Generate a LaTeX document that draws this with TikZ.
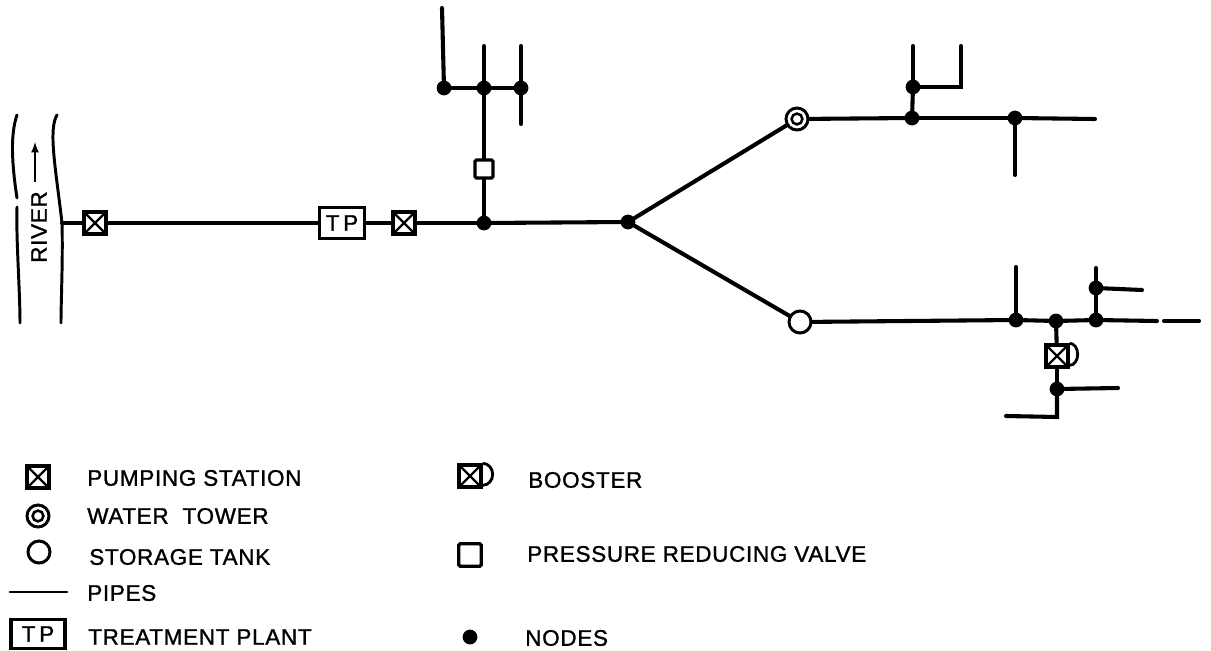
\documentclass[tikz,border=0pt]{standalone}
\usepackage{fontspec}
\setmainfont{Liberation Sans}
\newfontfamily\labelfont[LetterSpace=3,FakeBold=1.2]{Liberation Sans}
\begin{document}
\tikzset{
  pipe/.style={line width=2.9pt, line cap=round},
  thinpipe/.style={line width=2.1pt, line cap=round},
  junction/.style={circle, fill=black, inner sep=0pt, minimum size=.37cm},
  boxsym/.style={draw, line width=2.4pt, fill=white, inner sep=0pt},
  pumping/.style={boxsym, minimum size=.55cm,
    path picture={\draw[line width=1.7pt] (path picture bounding box.north west) -- (path picture bounding box.south east)
      (path picture bounding box.north east) -- (path picture bounding box.south west);}},
  valve/.style={boxsym, rounded corners=1pt, minimum size=.45cm},
  plant/.style={boxsym, minimum width=1.12cm, minimum height=.76cm, font=\labelfont\fontsize{16}{16}\selectfont},
  tank/.style={draw, circle, line width=2.1pt, fill=white, inner sep=0pt, minimum size=.55cm},
  tower/.style={tank, path picture={\draw[line width=1.8pt] (path picture bounding box.center) circle (.135cm);}},
  legendtext/.style={anchor=west, inner sep=0pt, font=\labelfont\fontsize{16}{16}\selectfont}
}
\begin{tikzpicture}[x=.025cm, y=-.025cm, >=latex]
  \useasboundingbox (0,0) rectangle (1211,651);

  % define coordinates for the free pipe ends
  \foreach \name/\x/\y in {bank/62/223, a1/442/8, a2/484/46, a3/521/46, a4/521/124,
      b1/913/46, b2/961/87, b3/961/46, b4/1095/119, b5/1015/175,
      c1/1016/267, c2/1096/268, c3/1142/290, c4/1157/321, c5/1164/321, c6/1199/321,
      c7/1118/388, c8/1057/417, c9/1006/416, leg1/10/592, leg2/67/592, flow/35/142, flowtail/35/182}
    \coordinate (\name) at (\x,\y);

  % the river
  \draw[thinpipe] (17,115) .. controls (10,135) and (12,165) .. (17,198);
  \draw[thinpipe] (17,207) .. controls (16,240) and (20,290) .. (20,323);
  \draw[thinpipe] (57,115) .. controls (48,130) and (56,170) .. (62,223)
    .. controls (63,260) and (61,300) .. (61,323);
  \node[rotate=90, inner sep=0pt, font=\labelfont\fontsize{16}{16}\selectfont] (river) at (39,227) {RIVER};
  \draw[->, line width=1.5pt] (flowtail) -- (flow);

  % draw the symbols on the main line
  \node[pumping] (ps1) at (95,223) {};
  \node[plant] (tp) at (342,223) {T\,P};
  \node[pumping] (ps2) at (404,223) {};
  \node[valve] (prv) at (484,169) {};
  \node[tower] (wt) at (797,119) {};
  \node[tank] (st) at (800,322) {};
  \node[pumping] (bst) at (1057,356) {};

  % draw the nodes
  \foreach \name/\x/\y in {n1/484/223, n2/484/88, n3/444/88, n4/521/88, j/628/222,
      n5/912/118, n6/1015/118, n7/913/87, n8/1016/320, n9/1056/321, n10/1096/320,
      n11/1096/288, n12/1057/389}
    \node[junction] (\name) at (\x,\y) {};

  % draw the pipes
  \draw[pipe] (bank) -- (ps1);
  \draw[pipe] (ps1) -- (tp);
  \draw[pipe] (tp) -- (ps2);
  \draw[pipe] (ps2) -- (n1);
  \draw[pipe] (n1) -- (j);
  \draw[pipe] (n1) -- (prv);
  \draw[pipe] (prv) -- (n2);
  \draw[pipe] (n3) -- (n2);
  \draw[pipe] (n2) -- (n4);
  \draw[pipe] (n3) -- (a1);
  \draw[pipe] (n2) -- (a2);
  \draw[pipe] (n4) -- (a3);
  \draw[pipe] (n4) -- (a4);
  \draw[pipe] (j) -- (wt);
  \draw[pipe] (j) -- (st);
  \draw[pipe] (wt) -- (n5);
  \draw[pipe] (n5) -- (n6);
  \draw[pipe] (n6) -- (b4);
  \draw[pipe] (n6) -- (b5);
  \draw[pipe] (n5) -- (n7);
  \draw[pipe] (n7) -- (b1);
  \draw[pipe] (n7) -| (b2) -- (b3);
  \draw[pipe] (st) -- (n8);
  \draw[pipe] (n8) -- (n9);
  \draw[pipe] (n9) -- (n10);
  \draw[pipe] (n10) -- (c4);
  \draw[pipe] (c5) -- (c6);
  \draw[pipe] (n8) -- (c1);
  \draw[pipe] (n10) -- (c2);
  \draw[pipe] (n11) -- (c3);
  \draw[pipe] (n9) -- (bst);
  \draw[pipe] (bst) -- (n12);
  \draw[pipe] (n12) -- (c7);
  \draw[pipe] (n12) -- (c8) -- (c9);
  \draw[line width=2pt] (bst.north east) arc (-90:90:8 and 11);

  % draw the legend
  \node[pumping] (lps) at (38,477) {};
  \node[legendtext] (tps) at (87,478) {PUMPING STATION};
  \node[tower] (lwt) at (38,516) {};
  \node[legendtext] (twt) at (87,516) {WATER\ \ TOWER};
  \node[tank] (lst) at (39,552) {};
  \node[legendtext] (tst) at (89,557) {STORAGE TANK};
  \draw[thinpipe] (leg1) -- (leg2);
  \node[legendtext] (tpp) at (87,593) {PIPES};
  \node[plant, minimum width=1.35cm, minimum height=.74cm] (ltp) at (38,634) {T\,P};
  \node[legendtext] (ttp) at (88,637) {TREATMENT PLANT};
  \node[pumping] (lbst) at (470,476) {};
  \draw[line width=2pt] (lbst.north east) arc (-90:90:10 and 11);
  \node[legendtext] (tbst) at (528,480) {BOOSTER};
  \node[valve, minimum size=.56cm] (lprv) at (470,555) {};
  \node[legendtext] (tprv) at (527,554) {PRESSURE REDUCING VALVE};
  \node[junction] (lnd) at (470,637) {};
  \node[legendtext] (tnd) at (525,638) {NODES};
\end{tikzpicture}
\end{document}
